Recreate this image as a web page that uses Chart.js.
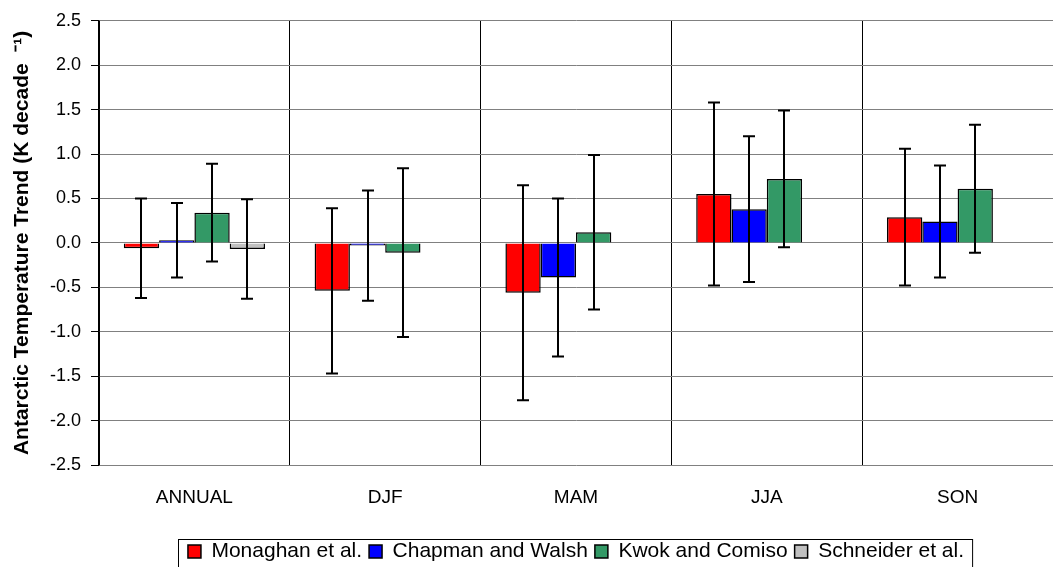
<!DOCTYPE html>
<html>
<head>
<meta charset="utf-8">
<script src="https://cdn.jsdelivr.net/npm/chart.js@4/dist/chart.umd.min.js"></script>
<style>
  html, body { margin: 0; padding: 0; background: #fff; }
  canvas { display: block; }
</style>
</head>
<body>
<canvas id="trendChart" width="1053" height="567"></canvas>
<script>
// valores (K/década)
const categories = ['ANNUAL', 'DJF', 'MAM', 'JJA', 'SON'];
const yTicks = [2.5, 2.0, 1.5, 1.0, 0.5, 0.0, -0.5, -1.0, -1.5, -2.0, -2.5];

const monaghan = [-0.06, -0.54, -0.56, 0.55, 0.29];
const monaghanErr = [0.56, 0.93, 1.21, 1.03, 0.77];
const chapman = [0.03, -0.03, -0.39, 0.38, 0.24];
const chapmanErr = [0.42, 0.62, 0.89, 0.82, 0.63];
const kwok = [0.34, -0.11, 0.12, 0.72, 0.61];
const kwokErr = [0.55, 0.95, 0.87, 0.77, 0.72];
const schneider = [-0.07, null, null, null, null];
const schneiderErr = [0.56, null, null, null, null];

Chart.defaults.font.family = "'Liberation Sans', Arial, sans-serif";
Chart.defaults.color = '#000';

// barras de erro desenhadas a partir das escalas do próprio gráfico
const errorBars = {
  id: 'errorBars',
  afterDatasetsDraw(chart) {
    const ctx = chart.ctx;
    const yScale = chart.scales.y;
    ctx.save();
    ctx.strokeStyle = '#000';
    ctx.lineWidth = 2;
    chart.data.datasets.forEach((ds, di) => {
      const meta = chart.getDatasetMeta(di);
      meta.data.forEach((bar, i) => {
        const v = ds.data[i];
        const e = ds.errors[i];
        if (v == null || e == null) return;
        const x = Math.round(bar.x);
        const yTop = yScale.getPixelForValue(v + e);
        const yBot = yScale.getPixelForValue(v - e);
        ctx.beginPath();
        ctx.moveTo(x, yTop); ctx.lineTo(x, yBot);
        ctx.moveTo(x - 6, yTop); ctx.lineTo(x + 6, yTop);
        ctx.moveTo(x - 6, yBot); ctx.lineTo(x + 6, yBot);
        ctx.stroke();
      });
    });
    ctx.restore();
  }
};

// moldura em volta da legenda
const legendFrame = {
  id: 'legendFrame',
  afterDraw(chart) {
    const boxes = chart.legend && chart.legend.legendHitBoxes;
    if (!boxes || !boxes.length) return;
    const left = Math.min(...boxes.map(b => b.left)) - 10;
    const right = Math.max(...boxes.map(b => b.left + b.width)) + 8;
    const top = Math.min(...boxes.map(b => b.top)) - 2;
    const ctx = chart.ctx;
    ctx.save();
    ctx.strokeStyle = '#000';
    ctx.lineWidth = 1;
    ctx.strokeRect(Math.round(left) + 0.5, Math.round(top) + 0.5, right - left, chart.height - top + 5);
    ctx.restore();
  }
};

function makeDataset(label, data, errors, color) {
  return {
    label: label,
    data: data,
    errors: errors,
    backgroundColor: color,
    borderColor: '#000',
    borderWidth: 1.5,
    categoryPercentage: 0.74,
    barPercentage: 1.0
  };
}

const ctx = document.getElementById('trendChart').getContext('2d');
const trendChart = new Chart(ctx, {
  type: 'bar',
  data: {
    labels: categories,
    datasets: [
      makeDataset('Monaghan et al.', monaghan, monaghanErr, '#ff0000'),
      makeDataset('Chapman and Walsh', chapman, chapmanErr, '#0000ff'),
      makeDataset('Kwok and Comiso', kwok, kwokErr, '#339966'),
      makeDataset('Schneider et al.', schneider, schneiderErr, '#c0c0c0')
    ]
  },
  options: {
    responsive: false,
    animation: false,
    layout: { padding: { top: 20, right: 0, left: 0, bottom: -5 } },
    scales: {
      x: {
        grid: { color: '#000', lineWidth: 1, offset: true, drawTicks: false },
        border: { display: false },
        ticks: { font: { size: 19 }, padding: 21, color: '#000' },
        afterFit: (scale) => { scale.height = 69; }
      },
      y: {
        min: -2.5,
        max: 2.5,
        afterBuildTicks: (scale) => { scale.ticks = yTicks.map(v => ({ value: v })); },
        grid: { color: '#808080', lineWidth: 1, tickColor: '#000', tickLength: 8 },
        border: { color: '#000', width: 1.5 },
        ticks: {
          font: { size: 18 },
          padding: 10,
          color: '#000',
          callback: (v) => Number(v).toFixed(1)
        },
        title: {
          display: true,
          text: 'Antarctic Temperature Trend (K decade  \u207B\u00B9)',
          font: { size: 21, weight: 'bold' },
          color: '#000',
          padding: { top: 10, bottom: 0 }
        },
        afterFit: (scale) => { scale.width = 99; }
      }
    },
    plugins: {
      legend: {
        position: 'bottom',
        fullSize: false,
        labels: {
          boxWidth: 13,
          boxHeight: 13,
          font: { size: 21 },
          color: '#000',
          padding: 7
        }
      },
      tooltip: { enabled: false }
    }
  },
  plugins: [errorBars, legendFrame]
});
</script>
</body>
</html>
